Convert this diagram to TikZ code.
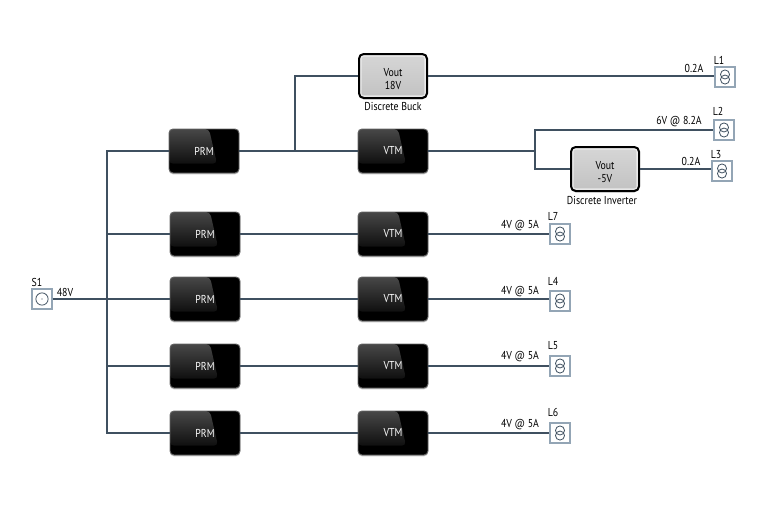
\documentclass[tikz,border=0pt]{standalone}
\usepackage{fontspec}
\setmainfont[FakeStretch=0.86]{PT Sans}
\usepackage{tikz}
\definecolor{wirecol}{HTML}{3F5060}
\definecolor{iconcol}{HTML}{93A5B5}
\newcommand{\upstrut}{\rule{0pt}{10.6pt}}
\tikzset{
  darkbox/.style={rounded corners=3pt, minimum width=52.5pt, minimum height=33pt, inner sep=0pt,
    draw=black!60, line width=0.7pt, fill=black, text=white, font=\fontsize{8.6}{10}\selectfont,
    preaction={fill=black!22, transform canvas={yshift=-1pt}},
    path picture={
      \shade[top color=black!72, bottom color=black] (path picture bounding box.north west) -- ([xshift=30pt]path picture bounding box.north west)
        -- ([xshift=36pt,yshift=-26pt]path picture bounding box.north west) -- ([yshift=-26pt]path picture bounding box.north west) -- cycle;
    }},
  greybox/.style={rounded corners=3.5pt, minimum width=51pt, minimum height=33pt, inner sep=0pt,
    draw=black, line width=1.5pt, top color=black!16, bottom color=black!24, align=center,
    font=\fontsize{8.6}{9.2}\selectfont,
    preaction={fill=black!22, transform canvas={yshift=-1pt}},
    path picture={
      \draw[white, opacity=0.6, line width=1pt, rounded corners=2pt] ([xshift=1.4pt,yshift=-1.4pt]path picture bounding box.north west) rectangle ([xshift=-1.4pt,yshift=1.4pt]path picture bounding box.south east);
    }},
  wire/.style={draw=wirecol, line width=0.85pt},
  lbl/.style={font=\fontsize{8.6}{10}\selectfont, inner sep=0pt},
  loadbox/.style={draw=iconcol, line width=0.9pt, fill=white, minimum size=15pt, inner sep=0pt,
    path picture={
      \draw[wirecol, line width=0.6pt] ([yshift=1.9pt]path picture bounding box.center) circle (3.4pt);
      \draw[wirecol, line width=0.6pt] ([yshift=-1.9pt]path picture bounding box.center) circle (3.4pt);
    }},
  srcbox/.style={draw=iconcol, line width=0.9pt, fill=white, minimum size=15pt, inner sep=0pt,
    path picture={
      \draw[wirecol, line width=0.6pt] (path picture bounding box.center) circle (4.6pt);
      \fill[wirecol] (path picture bounding box.center) circle (0.5pt);
    }}
}
\begin{document}
\begin{tikzpicture}[x=0.75pt,y=-0.75pt]
  \useasboundingbox (0,0) rectangle (767,511);

  % source
  \node[srcbox] (s1) at (42,299) {};
  \node[lbl] (s1text) at (37,282) {S1};
  \node[lbl] (s1volt) at (65,292) {48V};

  % first column
  \node[darkbox] (prm1) at (204,151) {PRM};
  \node[darkbox] (prm2) at (205,234) {PRM};
  \node[darkbox] (prm3) at (205,299) {PRM};
  \node[darkbox] (prm4) at (205,366) {PRM};
  \node[darkbox] (prm5) at (205,433) {PRM};

  % second column
  \node[darkbox] (vtm1) at (393,151) {VTM};
  \node[darkbox] (vtm2) at (393,234) {VTM};
  \node[darkbox] (vtm3) at (393,299) {VTM};
  \node[darkbox] (vtm4) at (393,366) {VTM};
  \node[darkbox] (vtm5) at (393,433) {VTM};

  % discrete converters
  \node[greybox] (buck) at (393,76) {\upstrut Vout\\18V};
  \node[lbl] (bucktext) at (393,106.5) {Discrete Buck};
  \node[greybox] (inv) at (605,169) {\upstrut Vout\\-5V};
  \node[lbl] (invtext) at (602,201) {Discrete Inverter};

  % loads
  \node[loadbox] (l1) at (725,77) {};
  \node[loadbox] (l2) at (724,130) {};
  \node[loadbox] (l3) at (722,171) {};
  \node[loadbox] (l7) at (560,234) {};
  \node[loadbox] (l4) at (560,301) {};
  \node[loadbox] (l5) at (560,366) {};
  \node[loadbox] (l6) at (560,433) {};

  \node[lbl] (l1text) at (719,60) {L1};
  \node[lbl] (l2text) at (718,111) {L2};
  \node[lbl] (l3text) at (716,155) {L3};
  \node[lbl] (l7text) at (553,216) {L7};
  \node[lbl] (l4text) at (553,281) {L4};
  \node[lbl] (l5text) at (553,346) {L5};
  \node[lbl] (l6text) at (553,412) {L6};

  \node[lbl] (l1volt) at (694,68.5) {0.2A};
  \node[lbl] (l2volt) at (679,122) {6V @ 8.2A};
  \node[lbl] (l3volt) at (691,161) {0.2A};
  \node[lbl] (l7volt) at (520,226) {4V @ 5A};
  \node[lbl] (l4volt) at (520,292) {4V @ 5A};
  \node[lbl] (l5volt) at (520,357) {4V @ 5A};
  \node[lbl] (l6volt) at (520,425) {4V @ 5A};

  % bus
  \coordinate (bustop) at (107,151);
  \coordinate (busbot) at (107,433);
  \coordinate (tap) at (295,151);
  \coordinate (split) at (535,151);

  \draw[wire] (s1) -- (prm3);
  \draw[wire] (prm1) -- (bustop) -- (busbot) -- (prm5);
  \draw[wire] (prm2 -| bustop) -- (prm2);
  \draw[wire] (prm4 -| bustop) -- (prm4);

  \draw[wire] (prm1) -- (vtm1);
  \draw[wire] (prm2) -- (vtm2);
  \draw[wire] (prm3) -- (vtm3);
  \draw[wire] (prm4) -- (vtm4);
  \draw[wire] (prm5) -- (vtm5);

  \draw[wire] (tap) |- (buck);
  \draw[wire] (buck) -- (buck -| l1.west);
  \draw[wire] (vtm1) -- (split);
  \draw[wire] (split) |- (l2);
  \draw[wire] (split) |- (inv);
  \draw[wire] (inv) -- (inv -| l3.west);

  \draw[wire] (vtm2) -- (l7);
  \draw[wire] (vtm3) -- (vtm3 -| l4.west);
  \draw[wire] (vtm4) -- (l5);
  \draw[wire] (vtm5) -- (l6);
\end{tikzpicture}
\end{document}
